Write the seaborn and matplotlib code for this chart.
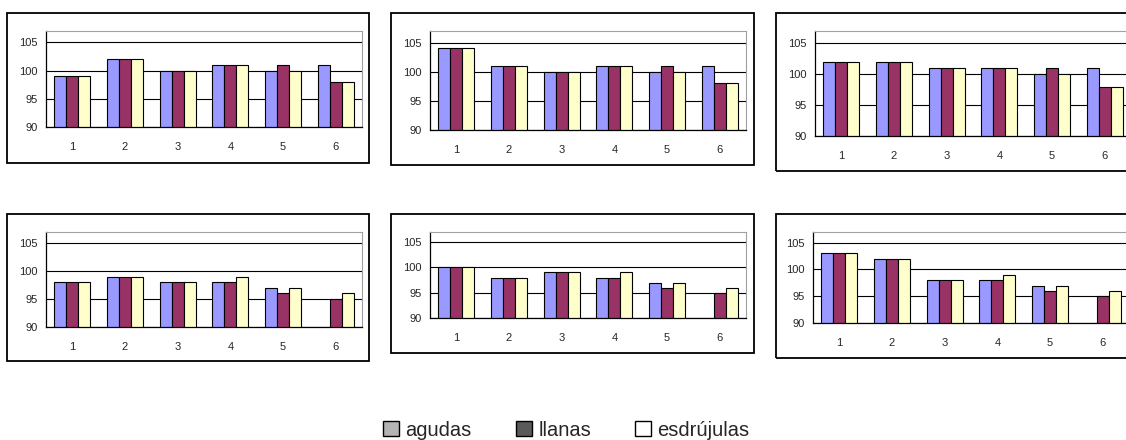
import numpy as np
import pandas as pd
import seaborn as sns
from matplotlib import pyplot as plt
from matplotlib.patches import Rectangle

categories = ['1', '2', '3', '4', '5', '6']
series_names = ['agudas', 'llanas', 'esdrújulas']
nan = np.nan

# one block per panel: agudas, llanas, esdrújulas
panel1 = [[99, 102, 100, 101, 100, 101], [99, 102, 100, 101, 101, 98], [99, 102, 100, 101, 100, 98]]
panel2 = [[104, 101, 100, 101, 100, 101], [104, 101, 100, 101, 101, 98], [104, 101, 100, 101, 100, 98]]
panel3 = [[102, 102, 101, 101, 100, 101], [102, 102, 101, 101, 101, 98], [102, 102, 101, 101, 100, 98]]
panel4 = [[98, 99, 98, 98, 97, nan], [98, 99, 98, 98, 96, 95], [98, 99, 98, 99, 97, 96]]
panel5 = [[100, 98, 99, 98, 97, nan], [100, 98, 99, 98, 96, 95], [100, 98, 99, 99, 97, 96]]
panel6 = [[103, 102, 98, 98, 97, nan], [103, 102, 98, 98, 96, 95], [103, 102, 98, 99, 97, 96]]
y_ticks = [90, 95, 100, 105]

bar_colors = ['#9999FF', '#993366', '#FFFFCC']
legend_colors = ['#B4B4B4', '#5A5A5A', '#FFFFFF']

W, H = 1126, 440
# (axes left, top, right, bottom) and (box left, top, right, bottom) in pixels
layout = [
	((46, 31, 362, 127), (7, 13, 369, 163)),
	((430, 31, 746, 130), (391, 13, 754, 165)),
	((815, 31, 1131, 136), (776, 13, 1140, 171)),
	((46, 232, 362, 327), (7, 214, 369, 361)),
	((430, 232, 746, 318), (391, 214, 754, 353)),
	((813, 232, 1129, 323), (776, 214, 1140, 358)),
]
panels = [panel1, panel2, panel3, panel4, panel5, panel6]


def to_frame(values):
	rows = []
	for name, vals in zip(series_names, values):
		for cat, v in zip(categories, vals):
			rows.append({'cat': cat, 'serie': name, 'val': v})
	return pd.DataFrame(rows)


def draw_panel(fig, values, ax_px, box_px):
	l, t, r, b = ax_px
	ax = fig.add_axes([l / W, 1 - b / H, (r - l) / W, (b - t) / H])
	bl, bt, br, bb = box_px
	fig.patches.append(Rectangle((bl / W, 1 - bb / H), (br - bl) / W, (bb - bt) / H,
		transform=fig.transFigure, fill=False, edgecolor='black', linewidth=1.3, zorder=0))
	df = to_frame(values)
	sns.barplot(data=df, x='cat', y='val', hue='serie', palette=bar_colors, width=0.68,
		saturation=1, edgecolor='black', linewidth=0.8, ax=ax, legend=False, errorbar=None)
	ax.set_ylim(90, 107)
	ax.set_xlim(-0.5, 5.5)
	ax.set_yticks(y_ticks)
	ax.set_xlabel('')
	ax.set_ylabel('')
	ax.yaxis.grid(True, color='black', linewidth=0.8)
	ax.set_axisbelow(True)
	ax.set_xticks(np.arange(len(categories)))
	ax.set_xticklabels(categories)
	ax.set_xticks(np.arange(-0.5, len(categories), 1.0), minor=True)
	ax.tick_params(axis='x', which='major', length=0, pad=11, labelsize=8)
	ax.tick_params(axis='x', which='minor', length=4, width=0.8, direction='out')
	ax.tick_params(axis='y', length=4, width=0.8, labelsize=8, pad=2)
	for side in ['top', 'right']:
		ax.spines[side].set_color('#A0A0A0')
	for side in ['left', 'bottom']:
		ax.spines[side].set_color('black')
		ax.spines[side].set_linewidth(0.9)


sns.set_style('white')
plt.rcParams['font.family'] = ['Liberation Sans', 'DejaVu Sans']
fig = plt.figure(figsize=(W / 100, H / 100), dpi=100)

for values, (ax_px, box_px) in zip(panels, layout):
	draw_panel(fig, values, ax_px, box_px)

handles = [Rectangle((0, 0), 1, 1, facecolor=c, edgecolor='black', linewidth=1.0) for c in legend_colors]
fig.legend(handles, series_names, loc='center', bbox_to_anchor=(0.503, 1 - 430 / H), ncol=3,
	frameon=False, fontsize=14.5, handlelength=0.8, handleheight=0.8, handletextpad=0.3,
	columnspacing=2.2)

plt.savefig('out.png', dpi=100)
